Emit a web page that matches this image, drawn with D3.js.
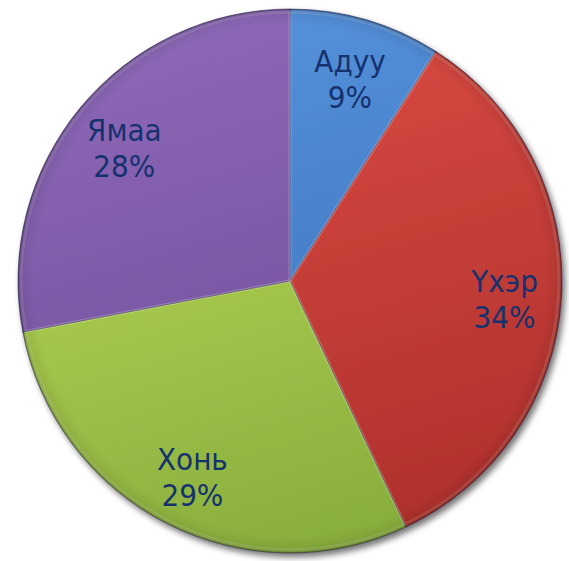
<!DOCTYPE html>
<html><head><meta charset="utf-8">
<script src="https://cdn.jsdelivr.net/npm/d3@7"></script>
<style>body{margin:0;background:#fff}svg{display:block}</style>
</head><body>
<script>
const categories = ["Адуу", "Үхэр", "Хонь", "Ямаа"];
const values = [9, 34, 29, 28];
const colorsTop = ["#5592dc", "#de4c45", "#bcdc58", "#8d68b8"];
const colorsBottom = ["#3a6db5", "#ad302b", "#86ac3c", "#6a4a93"];

const W = 569, H = 561, cx = 290, cy = 281, R = 272;
const svg = d3.select("body").append("svg").attr("width", W).attr("height", H);
const defs = svg.append("defs");

const f = defs.append("filter").attr("id", "sh").attr("x", "-10%").attr("y", "-10%").attr("width", "120%").attr("height", "120%");
f.append("feGaussianBlur").attr("in", "SourceAlpha").attr("stdDeviation", 3);
f.append("feOffset").attr("dx", 3).attr("dy", 4).attr("result", "b");
f.append("feComponentTransfer").append("feFuncA").attr("type", "linear").attr("slope", 0.55);
const m = f.append("feMerge");
m.append("feMergeNode");
m.append("feMergeNode").attr("in", "SourceGraphic");

categories.forEach((c, i) => {
  const g = defs.append("linearGradient").attr("id", "g" + i)
    .attr("gradientUnits", "userSpaceOnUse")
    .attr("x1", -R * 0.3).attr("y1", -R).attr("x2", R * 0.3).attr("y2", R);
  g.append("stop").attr("offset", "0").attr("stop-color", colorsTop[i]);
  g.append("stop").attr("offset", "1").attr("stop-color", colorsBottom[i]);
});
const rg = defs.append("radialGradient").attr("id", "rim").attr("gradientUnits", "userSpaceOnUse")
  .attr("cx", 0).attr("cy", 0).attr("r", R);
rg.append("stop").attr("offset", "0.94").attr("stop-color", "#000").attr("stop-opacity", 0);
rg.append("stop").attr("offset", "0.985").attr("stop-color", "#000").attr("stop-opacity", 0.07);
rg.append("stop").attr("offset", "1").attr("stop-color", "#000").attr("stop-opacity", 0.28);

const pie = d3.pie().sort(null).value(d => d)(values);
const arc = d3.arc().innerRadius(0).outerRadius(R);
const labelArc = d3.arc().innerRadius(215).outerRadius(215);

const g = svg.append("g").attr("transform", `translate(${cx},${cy})`);
const gs = g.append("g").attr("filter", "url(#sh)");
gs.selectAll("path.s").data(pie).join("path").attr("class", "s")
  .attr("d", arc).attr("fill", (d, i) => `url(#g${i})`)
  .attr("stroke", "rgba(30,20,60,0.5)").attr("stroke-width", 1);
g.selectAll("path.r").data(pie).join("path").attr("class", "r")
  .attr("d", arc).attr("fill", "url(#rim)");
g.selectAll("path.b").data(pie).join("path").attr("class", "b")
  .attr("d", d3.arc().innerRadius(0).outerRadius(R - 3)).attr("fill", "none")
  .attr("stroke", "rgba(255,255,255,0.12)").attr("stroke-width", 3)
  .attr("stroke-linejoin", "round");

const lab = g.selectAll("text").data(pie).join("text")
  .attr("transform", d => `translate(${labelArc.centroid(d)})`)
  .attr("text-anchor", "middle")
  .attr("font-family", "'DejaVu Sans Condensed', 'DejaVu Sans', sans-serif")
  .attr("font-size", 31)
  .attr("fill", "#15316e");
lab.append("tspan").attr("x", 0).attr("dy", "-0.08em").text((d, i) => categories[i]);
lab.append("tspan").attr("x", 0).attr("dy", "1.15em").text(d => d.data + "%");
</script>
</body></html>
